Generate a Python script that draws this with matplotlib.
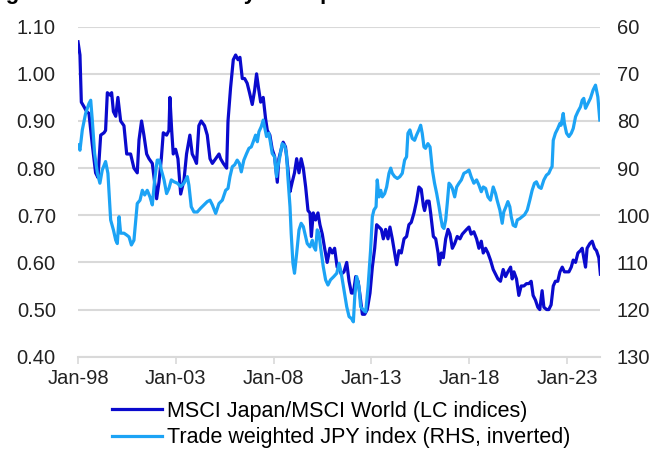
import matplotlib
matplotlib.use("Agg")
import matplotlib.pyplot as plt
import numpy as np

plt.rcParams['font.family'] = ['Liberation Sans', 'DejaVu Sans']

# MSCI Japan / MSCI World (LC indices), left axis
msci_year = [1998.00, 1998.10, 1998.17, 1998.31, 1998.44, 1998.56, 1998.73, 1998.90,
             1999.02, 1999.16, 1999.33, 1999.41, 1999.50, 1999.64, 1999.72, 1999.81,
             1999.93, 2000.04, 2000.18, 2000.35, 2000.49, 2000.69, 2000.86, 2001.03,
             2001.12, 2001.25, 2001.37, 2001.51, 2001.63, 2001.80, 2002.02, 2002.14,
             2002.26, 2002.36, 2002.53, 2002.65, 2002.70, 2002.79, 2002.87, 2002.99,
             2003.11, 2003.25, 2003.42, 2003.55, 2003.72, 2003.84, 2003.96, 2004.06,
             2004.18, 2004.30, 2004.47, 2004.61, 2004.75, 2004.87, 2005.04, 2005.21,
             2005.29, 2005.43, 2005.60, 2005.67, 2005.80, 2005.94, 2006.06, 2006.18,
             2006.28, 2006.40, 2006.52, 2006.65, 2006.77, 2006.91, 2007.03, 2007.13,
             2007.23, 2007.34, 2007.47, 2007.59, 2007.68, 2007.81, 2007.93, 2008.05,
             2008.19, 2008.27, 2008.39, 2008.49, 2008.61, 2008.73, 2008.84, 2008.95,
             2009.07, 2009.18, 2009.30, 2009.41, 2009.52, 2009.64, 2009.76, 2009.86,
             2009.93, 2010.03, 2010.15, 2010.27, 2010.37, 2010.49, 2010.61, 2010.74,
             2010.88, 2011.00, 2011.12, 2011.25, 2011.35, 2011.46, 2011.60, 2011.74,
             2011.86, 2011.98, 2012.08, 2012.20, 2012.32, 2012.42, 2012.54, 2012.66,
             2012.79, 2012.93, 2013.05, 2013.17, 2013.27, 2013.39, 2013.51, 2013.61,
             2013.73, 2013.85, 2013.95, 2014.07, 2014.19, 2014.29, 2014.41, 2014.53,
             2014.67, 2014.80, 2014.92, 2015.04, 2015.18, 2015.31, 2015.43, 2015.55,
             2015.66, 2015.72, 2015.83, 2015.95, 2016.03, 2016.17, 2016.29, 2016.41,
             2016.47, 2016.58, 2016.68, 2016.80, 2016.92, 2017.02, 2017.14, 2017.26,
             2017.39, 2017.53, 2017.65, 2017.87, 2017.99, 2018.10, 2018.24, 2018.38,
             2018.50, 2018.62, 2018.72, 2018.84, 2018.96, 2019.09, 2019.23, 2019.35,
             2019.47, 2019.60, 2019.74, 2019.86, 2019.98, 2020.12, 2020.20, 2020.29,
             2020.42, 2020.54, 2020.66, 2020.80, 2020.93, 2021.05, 2021.17, 2021.27,
             2021.39, 2021.51, 2021.61, 2021.73, 2021.82, 2021.96, 2022.07, 2022.19,
             2022.30, 2022.41, 2022.53, 2022.64, 2022.76, 2022.87, 2022.98, 2023.10,
             2023.22, 2023.32, 2023.44, 2023.56, 2023.69, 2023.78, 2023.86, 2023.95,
             2024.03, 2024.17, 2024.29, 2024.41, 2024.51, 2024.63, 2024.71]
msci_val = [1.068, 1.04, 0.94, 0.93, 0.92, 0.916, 0.85, 0.79,
            0.78, 0.87, 0.875, 0.88, 0.96, 0.955, 0.96, 0.92,
            0.91, 0.95, 0.90, 0.89, 0.83, 0.83, 0.80, 0.79,
            0.86, 0.90, 0.87, 0.83, 0.82, 0.81, 0.735, 0.77,
            0.82, 0.875, 0.87, 0.88, 0.95, 0.88, 0.83, 0.84,
            0.82, 0.745, 0.775, 0.83, 0.87, 0.83, 0.82, 0.81,
            0.89, 0.90, 0.89, 0.87, 0.82, 0.81, 0.82, 0.83,
            0.82, 0.81, 0.80, 0.90, 0.97, 1.03, 1.04, 1.03,
            1.035, 0.99, 0.99, 0.98, 0.96, 0.935, 0.965, 1.00,
            0.97, 0.94, 0.95, 0.905, 0.88, 0.87, 0.84, 0.825,
            0.77, 0.82, 0.84, 0.855, 0.845, 0.80, 0.75, 0.77,
            0.79, 0.82, 0.79, 0.82, 0.80, 0.76, 0.71, 0.705,
            0.655, 0.705, 0.69, 0.705, 0.68, 0.66, 0.63, 0.60,
            0.63, 0.62, 0.63, 0.59, 0.59, 0.575, 0.58, 0.60,
            0.56, 0.535, 0.535, 0.57, 0.56, 0.53, 0.49, 0.49,
            0.50, 0.535, 0.59, 0.63, 0.68, 0.675, 0.67, 0.65,
            0.67, 0.65, 0.675, 0.65, 0.62, 0.595, 0.625, 0.62,
            0.65, 0.655, 0.68, 0.685, 0.705, 0.73, 0.76, 0.755,
            0.72, 0.71, 0.73, 0.73, 0.705, 0.655, 0.65, 0.62,
            0.595, 0.62, 0.61, 0.65, 0.67, 0.66, 0.63, 0.64,
            0.655, 0.65, 0.66, 0.67, 0.675, 0.66, 0.665, 0.65,
            0.63, 0.645, 0.62, 0.63, 0.62, 0.605, 0.585, 0.575,
            0.565, 0.56, 0.585, 0.57, 0.58, 0.59, 0.565, 0.58,
            0.565, 0.53, 0.55, 0.55, 0.555, 0.555, 0.56, 0.53,
            0.52, 0.505, 0.50, 0.54, 0.505, 0.50, 0.50, 0.51,
            0.55, 0.56, 0.56, 0.58, 0.59, 0.58, 0.58, 0.58,
            0.59, 0.605, 0.60, 0.62, 0.625, 0.63, 0.61, 0.59,
            0.63, 0.64, 0.645, 0.63, 0.625, 0.61, 0.575]

# Trade weighted JPY index, right axis (inverted)
jpy_year = [1998.00, 1998.10, 1998.22, 1998.39, 1998.56, 1998.65, 1998.73, 1998.85,
            1998.99, 1999.12, 1999.24, 1999.41, 1999.53, 1999.67, 1999.81, 1999.93,
            2000.01, 2000.10, 2000.18, 2000.35, 2000.49, 2000.61, 2000.73, 2000.86,
            2001.03, 2001.17, 2001.29, 2001.41, 2001.54, 2001.68, 2001.80, 2001.92,
            2002.05, 2002.16, 2002.26, 2002.40, 2002.53, 2002.65, 2002.77, 2002.91,
            2003.08, 2003.25, 2003.42, 2003.59, 2003.67, 2003.79, 2003.93, 2004.10,
            2004.27, 2004.44, 2004.61, 2004.75, 2004.87, 2005.04, 2005.21, 2005.38,
            2005.55, 2005.67, 2005.77, 2005.89, 2006.01, 2006.14, 2006.25, 2006.35,
            2006.48, 2006.62, 2006.74, 2006.86, 2006.96, 2007.08, 2007.17, 2007.25,
            2007.37, 2007.47, 2007.54, 2007.64, 2007.76, 2007.85, 2007.93, 2008.05,
            2008.15, 2008.22, 2008.32, 2008.44, 2008.56, 2008.66, 2008.73, 2008.84,
            2008.90, 2008.99, 2009.07, 2009.18, 2009.30, 2009.41, 2009.52, 2009.64,
            2009.72, 2009.86, 2009.98, 2010.06, 2010.15, 2010.23, 2010.32, 2010.40,
            2010.54, 2010.66, 2010.78, 2010.91, 2011.08, 2011.23, 2011.35, 2011.46,
            2011.60, 2011.74, 2011.86, 2011.98, 2012.08, 2012.15, 2012.25, 2012.37,
            2012.45, 2012.59, 2012.71, 2012.83, 2012.96, 2013.05, 2013.13, 2013.24,
            2013.30, 2013.39, 2013.48, 2013.56, 2013.68, 2013.78, 2013.90, 2013.99,
            2014.07, 2014.19, 2014.33, 2014.46, 2014.58, 2014.70, 2014.80, 2014.87,
            2014.97, 2015.09, 2015.21, 2015.31, 2015.43, 2015.52, 2015.60, 2015.69,
            2015.77, 2015.89, 2016.00, 2016.12, 2016.23, 2016.34, 2016.46, 2016.54,
            2016.63, 2016.71, 2016.80, 2016.88, 2016.97, 2017.05, 2017.14, 2017.26,
            2017.36, 2017.48, 2017.60, 2017.73, 2017.87, 2017.99, 2018.10, 2018.24,
            2018.38, 2018.50, 2018.62, 2018.72, 2018.84, 2018.96, 2019.09, 2019.23,
            2019.35, 2019.43, 2019.57, 2019.69, 2019.77, 2019.88, 2019.98, 2020.08,
            2020.15, 2020.25, 2020.37, 2020.46, 2020.59, 2020.71, 2020.83, 2020.97,
            2021.10, 2021.22, 2021.34, 2021.44, 2021.56, 2021.68, 2021.82, 2021.95,
            2022.07, 2022.19, 2022.24, 2022.30, 2022.41, 2022.53, 2022.64, 2022.70,
            2022.81, 2022.87, 2022.98, 2023.10, 2023.22, 2023.32, 2023.44, 2023.56,
            2023.69, 2023.78, 2023.86, 2023.95, 2024.07, 2024.20, 2024.34, 2024.46,
            2024.58, 2024.68]
jpy_val = [85.1, 86.2, 81.9, 78.4, 76.3, 75.6, 79.8, 86.9,
           91.1, 93.2, 90.4, 88.6, 91.1, 101.0, 103.1, 105.3,
           106.0, 100.3, 103.8, 103.8, 104.2, 104.6, 106.3, 105.3,
           97.5, 96.8, 94.7, 95.7, 94.7, 96.1, 97.8, 92.5,
           88.3, 88.3, 90.4, 92.5, 95.4, 94.3, 92.5, 92.9,
           93.2, 93.9, 93.2, 91.8, 93.6, 98.2, 99.3, 99.3,
           98.5, 97.8, 97.1, 96.8, 97.8, 99.6, 97.5, 96.8,
           94.7, 94.3, 91.8, 89.7, 89.3, 88.3, 89.0, 90.8,
           88.3, 86.9, 85.8, 85.5, 84.4, 83.0, 84.4, 82.3,
           81.2, 79.8, 81.2, 83.3, 82.6, 84.8, 86.9, 87.6,
           91.8, 89.7, 87.6, 84.8, 85.2, 86.9, 91.8, 98.2,
           103.8, 110.2, 112.3, 108.1, 103.1, 101.7, 102.4, 104.6,
           106.0, 106.7, 105.3, 106.7, 107.4, 103.1, 103.8, 106.7,
           110.9, 113.7, 114.8, 113.7, 113.0, 112.3, 110.2, 112.3,
           115.9, 119.4, 121.5, 121.9, 122.6, 117.3, 113.0, 115.2,
           119.4, 120.1, 120.5, 115.2, 107.4, 100.3, 98.9, 98.2,
           92.5, 96.1, 94.7, 96.1, 95.4, 94.0, 91.1, 90.0,
           91.1, 91.8, 92.2, 91.8, 91.1, 88.3, 87.6, 82.6,
           81.9, 83.7, 84.1, 83.0, 81.9, 80.9, 82.6, 85.5,
           85.8, 84.8, 85.5, 90.4, 93.2, 95.4, 98.2, 100.3,
           102.4, 102.8, 101.0, 97.5, 93.2, 93.6, 94.3, 96.1,
           94.0, 93.2, 92.5, 91.1, 90.8, 90.4, 91.8, 93.2,
           92.5, 93.6, 95.0, 94.0, 94.3, 96.1, 96.8, 94.0,
           95.4, 96.8, 98.9, 101.7, 99.3, 98.2, 97.1, 98.2,
           100.3, 102.1, 102.4, 101.0, 100.7, 100.3, 99.9, 98.9,
           96.8, 94.7, 93.2, 92.9, 94.0, 94.3, 92.5, 91.5,
           91.1, 90.0, 89.7, 84.1, 82.6, 81.6, 80.5, 80.9,
           78.4, 80.5, 82.6, 83.3, 82.6, 81.6, 79.1, 78.0,
           77.0, 75.6, 75.2, 77.3, 76.3, 75.2, 73.4, 72.4,
           74.9, 79.8]

tick_years = [1998, 2003, 2008, 2013, 2018, 2023]
tick_labels = ['Jan-98', 'Jan-03', 'Jan-08', 'Jan-13', 'Jan-18', 'Jan-23']
left_ticks = [0.40, 0.50, 0.60, 0.70, 0.80, 0.90, 1.00, 1.10]
right_ticks = [60, 70, 80, 90, 100, 110, 120, 130]

dark = '#0A0ACD'
light = '#1CA3F5'
grid_col = '#D9D9D9'
fs = 14.5

fig = plt.figure(figsize=(6.65, 4.54), dpi=100)
ax = fig.add_axes([78/665, 1 - 356.7/454, 522/665, 330/454])
ax2 = ax.twinx()

l1, = ax.plot(msci_year, msci_val, color=dark, lw=2.3, solid_joinstyle='round',
              label='MSCI Japan/MSCI World (LC indices)')
l2, = ax2.plot(jpy_year, jpy_val, color=light, lw=2.3, solid_joinstyle='round',
               label='Trade weighted JPY index (RHS, inverted)')

ax.set_xlim(1998, 2024.69)
ax.set_ylim(0.40, 1.10)
ax2.set_ylim(130, 60)

ax.set_yticks(left_ticks)
ax.set_yticklabels([f'{v:.2f}' for v in left_ticks], fontsize=fs, color='#222222')
ax2.set_yticks(right_ticks)
ax2.set_yticklabels([str(v) for v in right_ticks], fontsize=fs, color='#222222')
ax.set_xticks(tick_years)
ax.set_xticklabels(tick_labels, fontsize=fs, color='#222222')

ax.grid(axis='y', color=grid_col, lw=1.5)
ax.set_axisbelow(True)
for a in (ax, ax2):
    for s in ('top', 'left', 'right', 'bottom'):
        a.spines[s].set_visible(False)
ax.spines['bottom'].set_visible(True)
ax.spines['bottom'].set_color(grid_col)
ax.spines['bottom'].set_linewidth(1.5)

ax.tick_params(axis='y', length=0, pad=16)
ax2.tick_params(axis='y', length=0, pad=12)
ax.tick_params(axis='x', length=5, width=1.2, color=grid_col, pad=4)

# chart title sits above the crop in the reference: only its descenders show
fig.text(-14/665, 1 + 1/454, 'Figure 4: Relative to the yen helps', fontsize=16,
         fontweight='bold', color='black', ha='left', va='baseline')

fig.legend(handles=[l1, l2], loc='upper left', bbox_to_anchor=(112/665, 1 - 401/454),
           frameon=False, fontsize=15.5, handlelength=2.3, handletextpad=0.25,
           labelspacing=0.25, borderpad=0, borderaxespad=0)

fig.savefig('out.png', dpi=100)
